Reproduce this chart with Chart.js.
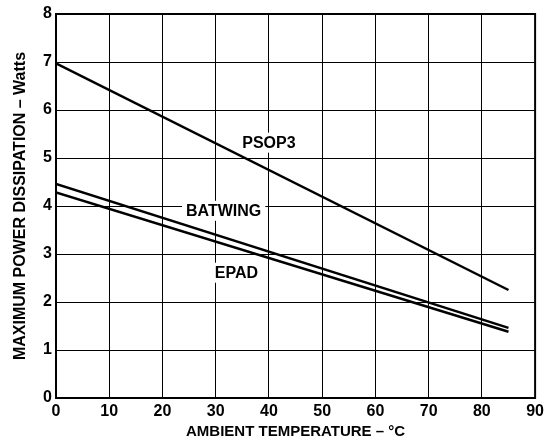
<!DOCTYPE html>
<html>
<head>
<meta charset="utf-8">
<script src="https://cdn.jsdelivr.net/npm/chart.js@4/dist/chart.umd.min.js"></script>
<style>
  html, body { margin: 0; padding: 0; background: #fff; }
  #wrap { width: 548px; height: 443px; }
</style>
</head>
<body>
<div id="wrap"><canvas id="chart"></canvas></div>
<script>
// ambient temperature, °C
const temps = [0, 85];
// max power dissipation, Watts
const psop3 = [6.97, 2.25];
const batwing = [4.46, 1.46];
const epad = [4.28, 1.38];

// in-plot curve labels (data coords)
const labelNames = ['PSOP3', 'BATWING', 'EPAD'];
const labelX = [40, 31.5, 33.9];
const labelY = [5.32, 3.9, 2.61];

const FONT = '"Liberation Sans", Arial, Helvetica, sans-serif';

function toPoints(ys) {
  return temps.map((t, i) => ({ x: t, y: ys[i] }));
}

function lineSet(name, ys) {
  return {
    label: name,
    data: toPoints(ys),
    borderColor: '#000',
    borderWidth: 2.5,
    pointRadius: 0,
    fill: false,
    tension: 0
  };
}

// thick frame around the plot
const framePlugin = {
  id: 'frame',
  afterDraw(chart) {
    const { ctx, chartArea: a } = chart;
    ctx.save();
    ctx.strokeStyle = '#000';
    ctx.lineWidth = 2;
    ctx.strokeRect(a.left, a.top, a.right - a.left, a.bottom - a.top);
    ctx.restore();
  }
};

// curve names with white boxes that blank the grid behind them
const curveLabels = {
  id: 'curveLabels',
  afterDatasetsDraw(chart) {
    const { ctx, scales } = chart;
    ctx.save();
    ctx.font = 'bold 16px ' + FONT;
    ctx.textAlign = 'center';
    ctx.textBaseline = 'middle';
    labelNames.forEach((name, i) => {
      const px = scales.x.getPixelForValue(labelX[i]);
      const py = scales.y.getPixelForValue(labelY[i]);
      const w = ctx.measureText(name).width + 8;
      ctx.fillStyle = '#fff';
      ctx.fillRect(px - w / 2, py - 10, w, 20);
      ctx.fillStyle = '#000';
      ctx.fillText(name, px, py + 1);
    });
    ctx.restore();
  }
};

new Chart(document.getElementById('chart'), {
  type: 'line',
  data: {
    datasets: [
      lineSet('PSOP3', psop3),
      lineSet('BATWING', batwing),
      lineSet('EPAD', epad)
    ]
  },
  options: {
    responsive: true,
    maintainAspectRatio: false,
    animation: false,
    layout: { padding: { top: 14, right: 9, left: 0, bottom: 0 } },
    plugins: {
      legend: { display: false },
      tooltip: { enabled: false }
    },
    scales: {
      x: {
        type: 'linear',
        min: 0,
        max: 90,
        ticks: {
          stepSize: 10,
          color: '#000',
          font: { family: FONT, weight: 'bold', size: 16 },
          padding: 4,
          maxRotation: 0
        },
        grid: { color: '#000', lineWidth: 1, drawTicks: false },
        border: { display: false },
        title: {
          display: true,
          text: 'AMBIENT TEMPERATURE – °C',
          color: '#000',
          font: { family: FONT, weight: 'bold', size: 15 },
          padding: { top: 0, bottom: 2 }
        },
        afterFit(scale) { scale.height = 45; }
      },
      y: {
        min: 0,
        max: 8,
        ticks: {
          stepSize: 1,
          color: '#000',
          font: { family: FONT, weight: 'bold', size: 16 },
          padding: 4
        },
        grid: { color: '#000', lineWidth: 1, drawTicks: false },
        border: { display: false },
        title: {
          display: true,
          text: 'MAXIMUM POWER DISSIPATION – Watts',
          color: '#000',
          font: { family: FONT, weight: 'bold', size: 16 },
          padding: { top: 11, bottom: 0 }
        },
        afterFit(scale) { scale.width = 56; }
      }
    }
  },
  plugins: [curveLabels, framePlugin]
});
</script>
</body>
</html>
